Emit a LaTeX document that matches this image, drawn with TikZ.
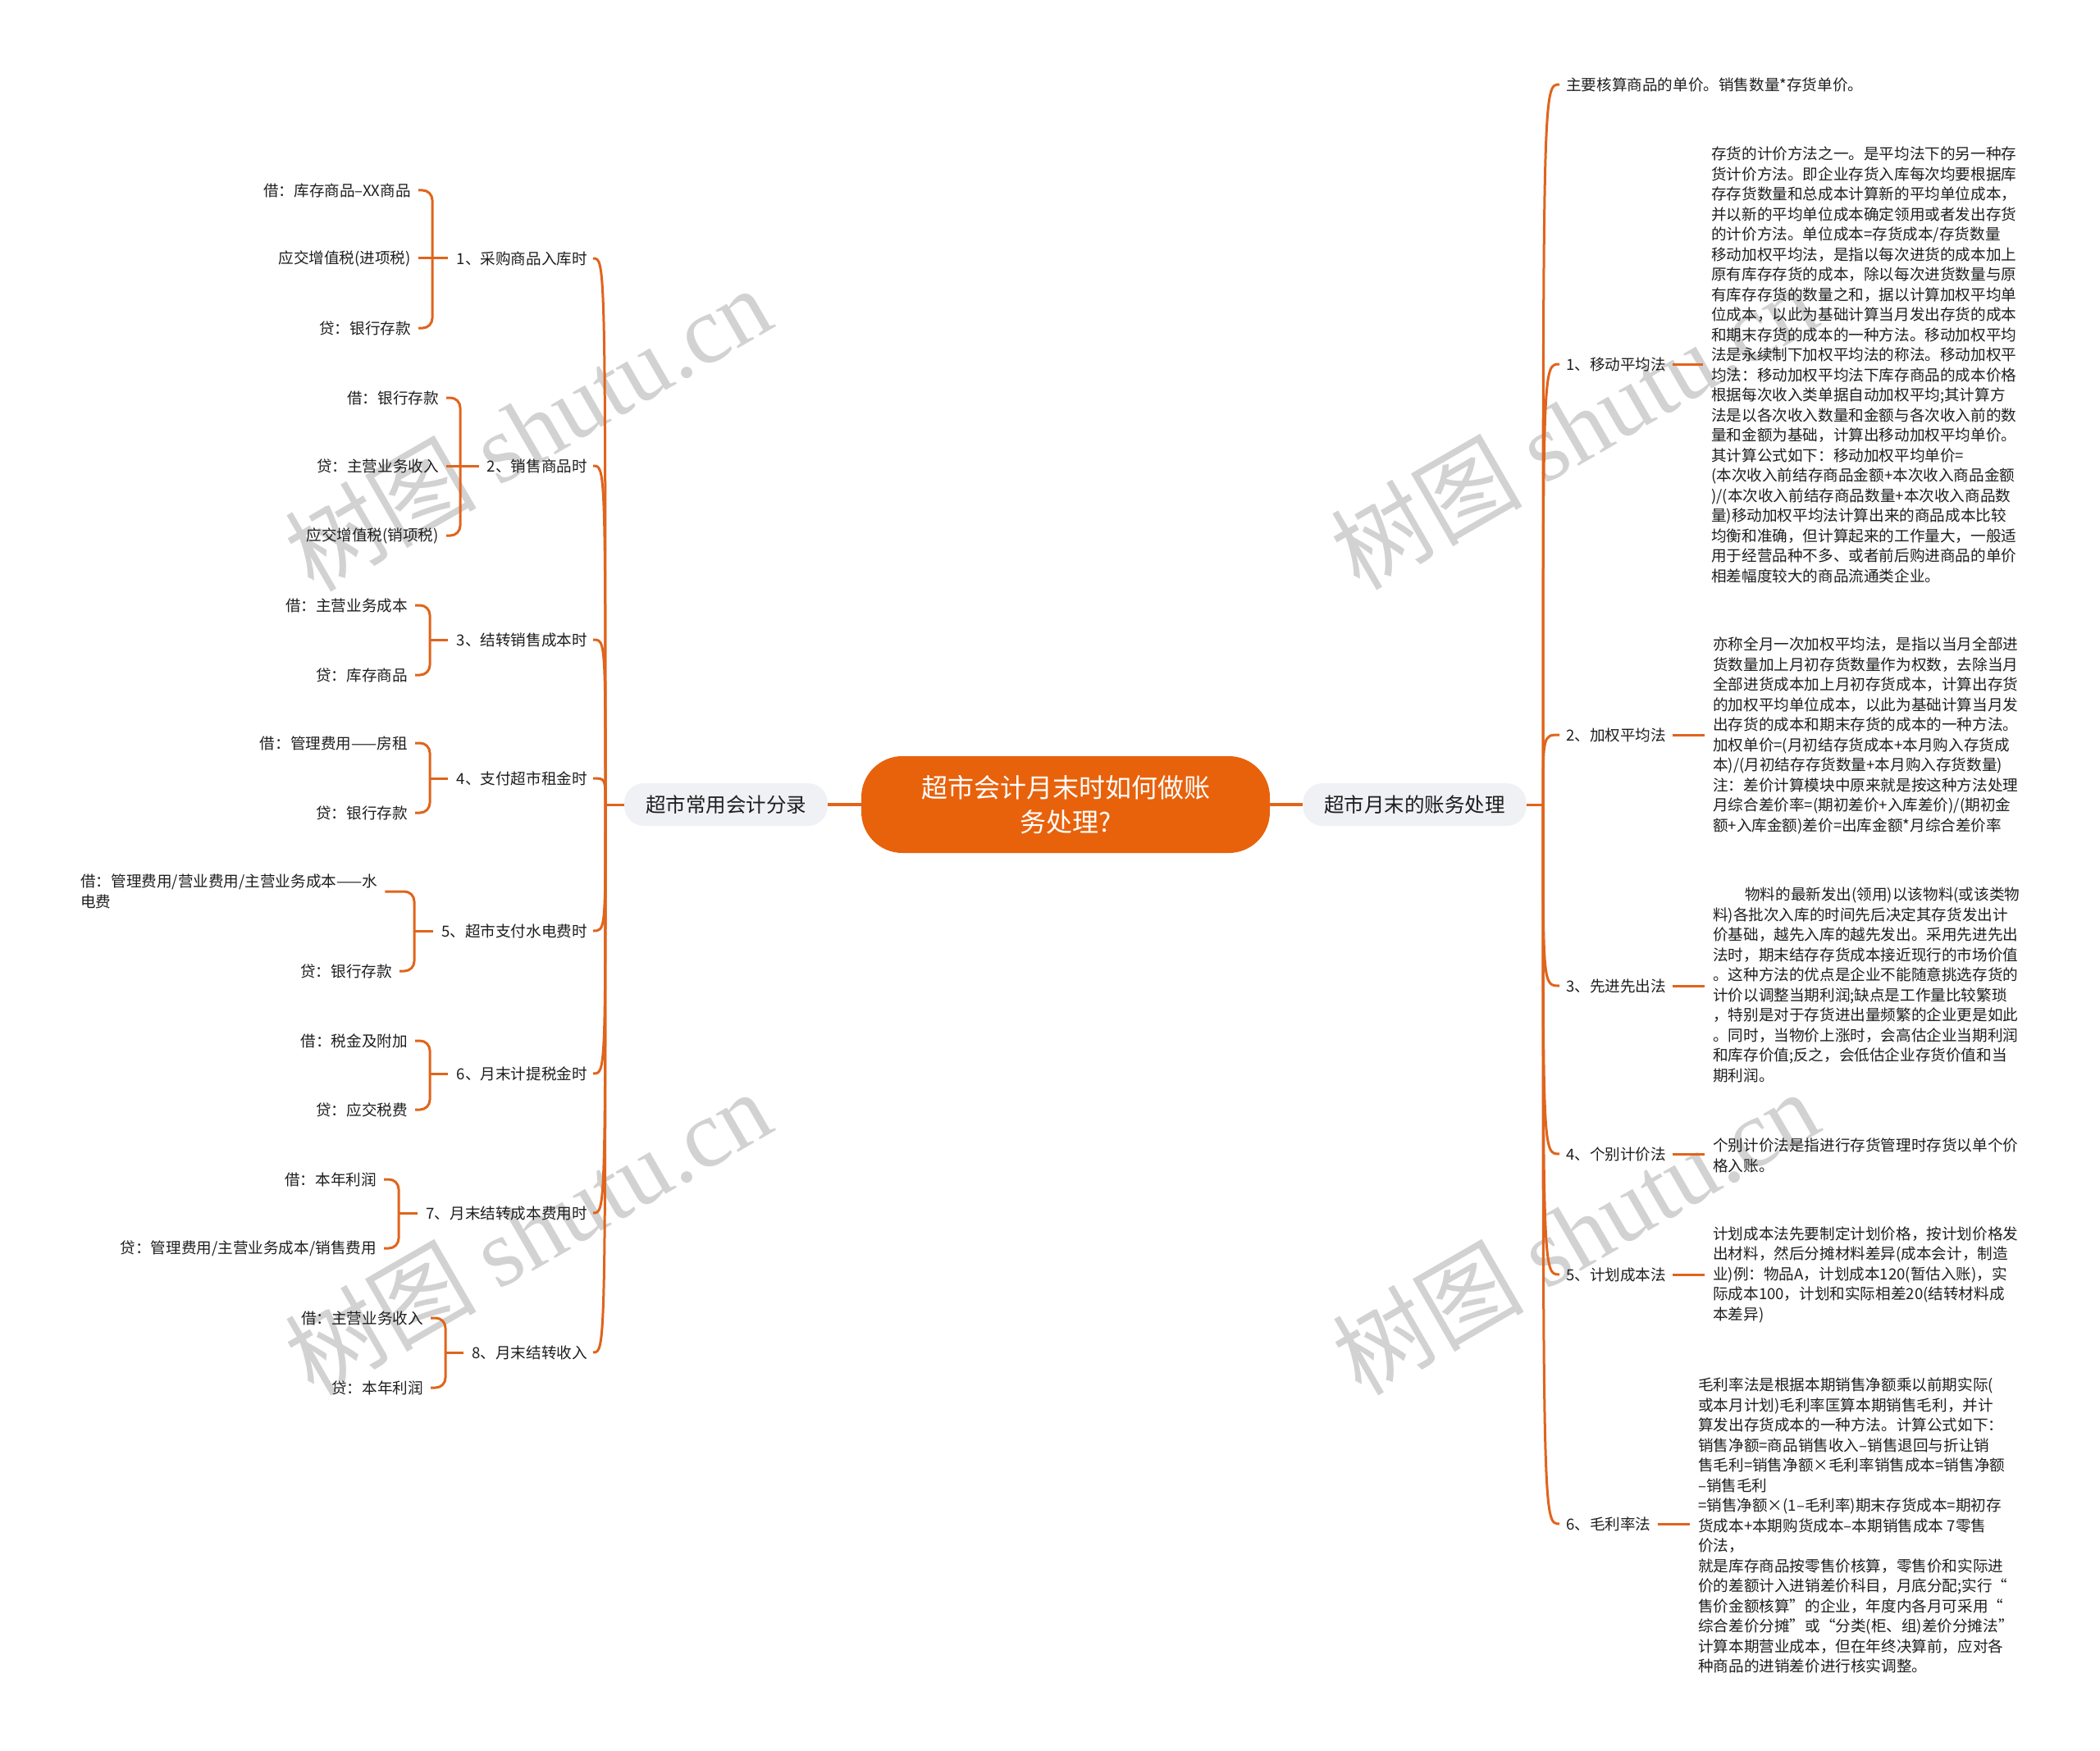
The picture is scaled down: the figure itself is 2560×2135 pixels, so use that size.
\documentclass[tikz,border=0pt]{standalone}
\usepackage{fontspec}
\setmainfont{Noto Sans CJK SC}
\newfontfamily\wmserif{Liberation Serif}
\definecolor{orng}{RGB}{232,98,12}
\definecolor{lnor}{RGB}{224,100,28}
\definecolor{brfill}{RGB}{239,241,244}
\definecolor{txt}{RGB}{30,30,30}
\definecolor{wm}{RGB}{210,210,210}
\begin{document}
\begin{tikzpicture}[x=1pt,y=-1pt,
 leaf/.style={font=\fontsize{18.6}{24.5}\selectfont, inner sep=0pt, text=txt},
 lleaf/.style={leaf, anchor=east},
 rlab/.style={leaf, anchor=west},
 blk/.style={leaf, align=left, anchor=west},
 conn/.style={draw=lnor, line width=3pt},
 mainconn/.style={draw=lnor, line width=3.5pt},
 brnode/.style={fill=brfill, rounded corners=24pt, font=\fontsize{24.5}{30}\selectfont, text=txt, minimum height=52pt, inner xsep=26pt, inner ysep=0pt},
 wmark/.style={text=wm, rotate=30, inner sep=0pt, font=\fontsize{117}{117}\selectfont}
]
\useasboundingbox (0,0) rectangle (2560,2135);

% watermarks
\node[wmark] (w1) at (643,522) {树图 {\wmserif shutu.cn}};
\node[wmark] (w2) at (643,1502) {树图 {\wmserif shutu.cn}};
\node[wmark] (w3) at (1918,520) {树图 {\wmserif shutu.cn}};
\node[wmark] (w4) at (1920,1502) {树图 {\wmserif shutu.cn}};

% root and branches
\node[fill=orng, rounded corners=50pt, minimum width=498pt, minimum height=118pt, text=white, font=\fontsize{32}{42}\selectfont, align=center, inner sep=0pt] (root) at (1299,981) {超市会计月末时如何做账\\务处理?};
\node[brnode] (L) at (885,981) {超市常用会计分录};
\node[brnode] (R) at (1724.5,981) {超市月末的账务处理};
\draw[mainconn] (root.west) -- (L.east);
\draw[mainconn] (root.east) -- (R.west);

% ---------- left side ----------
\coordinate (la) at (738,981);
\draw[conn] (L.west) -- (la);
\node[lleaf] (c1) at (716,315) {1、采购商品入库时};
\node[lleaf] (c2) at (716,568) {2、销售商品时};
\node[lleaf] (c3) at (716,780) {3、结转销售成本时};
\node[lleaf] (c4) at (716,949) {4、支付超市租金时};
\node[lleaf] (c5) at (716,1135) {5、超市支付水电费时};
\node[lleaf] (c6) at (716,1309) {6、月末计提税金时};
\node[lleaf] (c7) at (716,1479) {7、月末结转成本费用时};
\node[lleaf] (c8) at (716,1649) {8、月末结转收入};
\foreach \n in {c1,c2,c3,c4,c5,c6,c7,c8}
  \draw[conn] (la) .. controls (la |- \n.east) and (la |- \n.east) .. ([xshift=7pt]\n.east);

% item 1
\node[lleaf] (s11) at (501,232) {借：库存商品–XX商品};
\node[lleaf] (s12) at (501,315) {应交增值税(进项税)};
\node[lleaf] (s13) at (501,400) {贷：银行存款};
\coordinate (b1) at (527,315);
\draw[conn] ([xshift=-10pt]c1.west) -- ([xshift=9pt]s12.east);
\draw[conn, rounded corners=12pt] (b1) |- ([xshift=9pt]s11.east);
\draw[conn, rounded corners=12pt] (b1) |- ([xshift=9pt]s13.east);
% item 2
\node[lleaf] (s21) at (535,485) {借：银行存款};
\node[lleaf] (s22) at (535,568) {贷：主营业务收入};
\node[lleaf] (s23) at (535,653) {应交增值税(销项税)};
\coordinate (b2) at (561,568);
\draw[conn] ([xshift=-10pt]c2.west) -- ([xshift=9pt]s22.east);
\draw[conn, rounded corners=12pt] (b2) |- ([xshift=9pt]s21.east);
\draw[conn, rounded corners=12pt] (b2) |- ([xshift=9pt]s23.east);
% item 3
\node[lleaf] (s31) at (497,738) {借：主营业务成本};
\node[lleaf] (s32) at (497,823) {贷：库存商品};
\coordinate (b3) at (524,780);
% item 4
\node[lleaf] (s41) at (497,906) {借：管理费用——房租};
\node[lleaf] (s42) at (497,991) {贷：银行存款};
\coordinate (b4) at (524,949);
% item 5
\node[blk] (s51) at (98,1087) {借：管理费用/营业费用/主营业务成本——水\\电费};
\node[lleaf] (s52) at (478,1184) {贷：银行存款};
\coordinate (b5) at (505,1135);
% item 6
\node[lleaf] (s61) at (497,1269) {借：税金及附加};
\node[lleaf] (s62) at (497,1353) {贷：应交税费};
\coordinate (b6) at (524,1309);
% item 7
\node[lleaf] (s71) at (459,1438) {借：本年利润};
\node[lleaf] (s72) at (459,1522) {贷：管理费用/主营业务成本/销售费用};
\coordinate (b7) at (486,1479);
% item 8
\node[lleaf] (s81) at (516,1607) {借：主营业务收入};
\node[lleaf] (s82) at (516,1692) {贷：本年利润};
\coordinate (b8) at (543,1649);
\foreach \k in {3,4,5,6,7,8} {
  \draw[conn] ([xshift=-10pt]c\k.west) -- (b\k);
  \draw[conn, rounded corners=12pt] (b\k) |- ([xshift=9pt]s\k1.east);
  \draw[conn, rounded corners=12pt] (b\k) |- ([xshift=9pt]s\k2.east);
}

% ---------- right side ----------
\coordinate (ra) at (1881,981);
\draw[conn] (R.east) -- (ra);
\node[rlab] (r0) at (1909,103) {主要核算商品的单价。销售数量*存货单价。};
\node[rlab] (r1) at (1909,444) {1、移动平均法};
\node[rlab] (r2) at (1909,896) {2、加权平均法};
\node[rlab] (r3) at (1909,1202) {3、先进先出法};
\node[rlab] (r4) at (1909,1407) {4、个别计价法};
\node[rlab] (r5) at (1909,1554) {5、计划成本法};
\node[rlab] (r6) at (1909,1858) {6、毛利率法};
\foreach \n in {r0,r1,r2,r3,r4,r5,r6}
  \draw[conn] (ra) .. controls (ra |- \n.west) and (ra |- \n.west) .. ([xshift=-8pt]\n.west);

\node[blk] (t1) at (2086,445) {存货的计价方法之一。是平均法下的另一种存\\
货计价方法。即企业存货入库每次均要根据库\\
存存货数量和总成本计算新的平均单位成本，\\
并以新的平均单位成本确定领用或者发出存货\\
的计价方法。单位成本=存货成本/存货数量\\
移动加权平均法，是指以每次进货的成本加上\\
原有库存存货的成本，除以每次进货数量与原\\
有库存存货的数量之和，据以计算加权平均单\\
位成本，以此为基础计算当月发出存货的成本\\
和期末存货的成本的一种方法。移动加权平均\\
法是永续制下加权平均法的称法。移动加权平\\
均法：移动加权平均法下库存商品的成本价格\\
根据每次收入类单据自动加权平均;其计算方\\
法是以各次收入数量和金额与各次收入前的数\\
量和金额为基础，计算出移动加权平均单价。\\
其计算公式如下：移动加权平均单价=\\
(本次收入前结存商品金额+本次收入商品金额\\
)/(本次收入前结存商品数量+本次收入商品数\\
量)移动加权平均法计算出来的商品成本比较\\
均衡和准确，但计算起来的工作量大，一般适\\
用于经营品种不多、或者前后购进商品的单价\\
相差幅度较大的商品流通类企业。};

\node[blk] (t2) at (2088,897) {亦称全月一次加权平均法，是指以当月全部进\\
货数量加上月初存货数量作为权数，去除当月\\
全部进货成本加上月初存货成本，计算出存货\\
的加权平均单位成本，以此为基础计算当月发\\
出存货的成本和期末存货的成本的一种方法。\\
加权单价=(月初结存货成本+本月购入存货成\\
本)/(月初结存存货数量+本月购入存货数量)\\
注：差价计算模块中原来就是按这种方法处理\\
月综合差价率=(期初差价+入库差价)/(期初金\\
额+入库金额)差价=出库金额*月综合差价率};

\node[blk] (t3) at (2088,1201) {\hspace*{2.1em}物料的最新发出(领用)以该物料(或该类物\\
料)各批次入库的时间先后决定其存货发出计\\
价基础，越先入库的越先发出。采用先进先出\\
法时，期末结存存货成本接近现行的市场价值\\
。这种方法的优点是企业不能随意挑选存货的\\
计价以调整当期利润;缺点是工作量比较繁琐\\
，特别是对于存货进出量频繁的企业更是如此\\
。同时，当物价上涨时，会高估企业当期利润\\
和库存价值;反之，会低估企业存货价值和当\\
期利润。};

\node[blk] (t4) at (2088,1409) {个别计价法是指进行存货管理时存货以单个价\\
格入账。};

\node[blk] (t5) at (2088,1554) {计划成本法先要制定计划价格，按计划价格发\\
出材料，然后分摊材料差异(成本会计，制造\\
业)例：物品A，计划成本120(暂估入账)，实\\
际成本100，计划和实际相差20(结转材料成\\
本差异)};

\node[blk] (t6) at (2070,1860) {毛利率法是根据本期销售净额乘以前期实际(\\
或本月计划)毛利率匡算本期销售毛利，并计\\
算发出存货成本的一种方法。计算公式如下：\\
销售净额=商品销售收入–销售退回与折让销\\
售毛利=销售净额×毛利率销售成本=销售净额\\
–销售毛利\\
=销售净额×(1–毛利率)期末存货成本=期初存\\
货成本+本期购货成本–本期销售成本 7零售\\
价法，\\
就是库存商品按零售价核算，零售价和实际进\\
价的差额计入进销差价科目，月底分配;实行“\\
售价金额核算”的企业，年度内各月可采用“\\
综合差价分摊”或“分类(柜、组)差价分摊法”\\
计算本期营业成本，但在年终决算前，应对各\\
种商品的进销差价进行核实调整。};

\foreach \k in {1,2,3,4,5,6}
  \draw[conn] ([xshift=8pt]r\k.east) -- ([xshift=-10pt]r\k.east -| t\k.west);
\end{tikzpicture}
\end{document}
